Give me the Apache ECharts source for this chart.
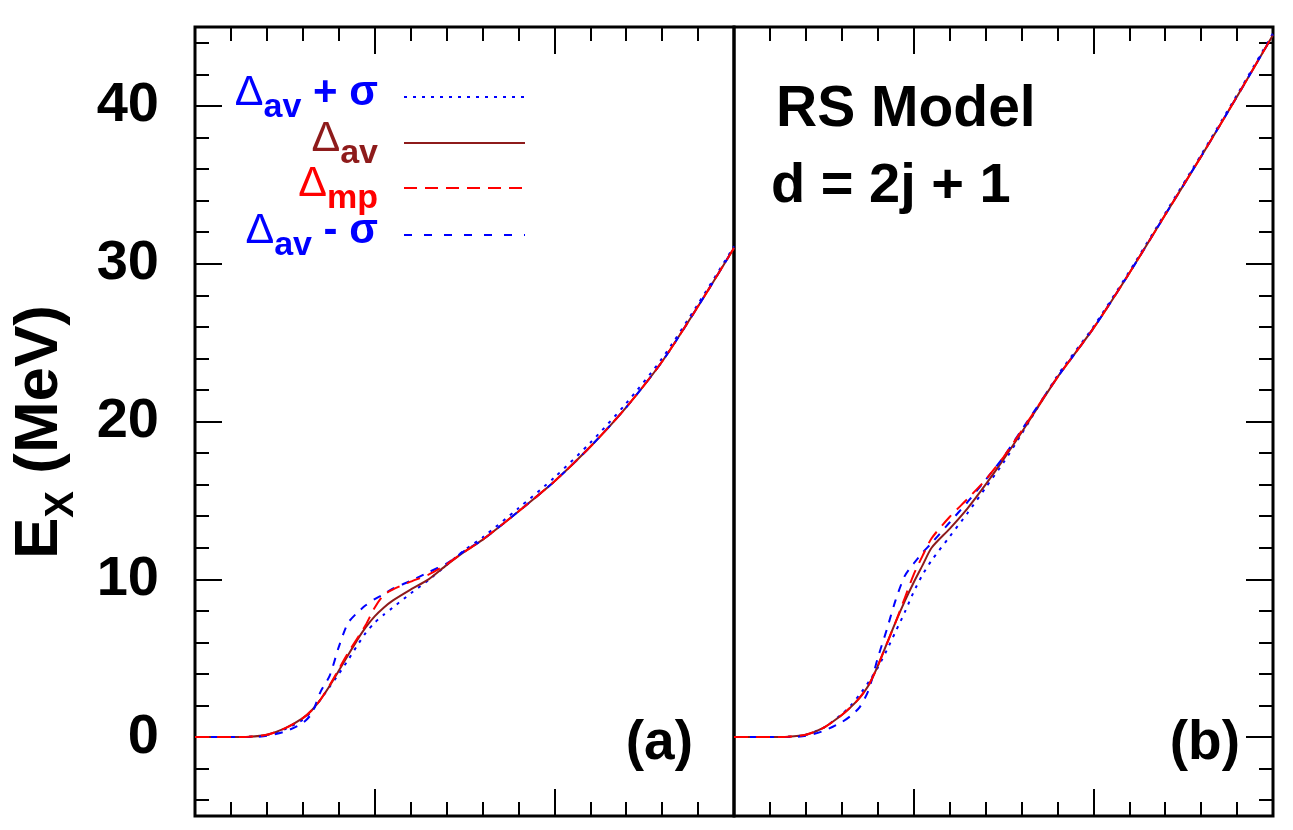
<!DOCTYPE html>
<html>
<head>
<meta charset="utf-8">
<script src="https://cdn.jsdelivr.net/npm/echarts@6/dist/echarts.min.js"></script>
<style>
html, body { margin: 0; padding: 0; background: #fff; }
#chart { width: 1293px; height: 830px; }
</style>
</head>
<body>
<div id="chart"></div>
<script>
// x in tick units (15 minor ticks across each panel)
var xs = [0, 1, 1.5, 2, 2.5, 3, 3.25, 3.5, 3.75, 4, 4.25, 4.5, 4.75, 5, 5.25, 5.5, 6, 6.5, 7, 7.5, 8, 9, 10, 11, 12, 13, 14, 15];

// panel (a)
var avA    = [0, 0, 0.02, 0.15, 0.55, 1.2, 1.7, 2.4, 3.25, 4.2, 5.15, 6.1, 6.95, 7.65, 8.2, 8.65, 9.35, 10.0, 10.9, 11.75, 12.5, 14.3, 16.2, 18.4, 20.9, 23.8, 27.3, 31.0];
var plusA  = [0, 0, 0.02, 0.13, 0.5, 1.1, 1.65, 2.4, 3.2, 4.0, 4.85, 5.75, 6.6, 7.25, 7.75, 8.2, 9.1, 9.95, 10.9, 11.85, 12.65, 14.5, 16.45, 18.65, 21.15, 24.0, 27.45, 31.1];
var minusA = [0, 0, 0, 0.08, 0.35, 0.9, 1.5, 2.9, 3.9, 5.7, 7.2, 7.85, 8.35, 8.75, 9.05, 9.4, 9.9, 10.45, 11.0, 11.8, 12.5, 14.3, 16.2, 18.4, 20.9, 23.8, 27.3, 31.0];
var mpA    = [0, 0, 0.02, 0.15, 0.55, 1.2, 1.7, 2.4, 3.3, 4.3, 5.3, 6.2, 7.1, 8.2, 9.0, 9.35, 9.85, 10.3, 10.95, 11.75, 12.5, 14.3, 16.2, 18.4, 20.9, 23.8, 27.3, 31.0];

// panel (b)
var avB    = [0, 0, 0.02, 0.15, 0.6, 1.4, 1.9, 2.5, 3.3, 4.5, 5.9, 7.3, 8.6, 9.8, 10.9, 12.0, 13.2, 14.5, 16.0, 17.6, 19.3, 22.8, 25.9, 29.4, 33.1, 36.8, 40.6, 44.5];
var plusB  = [0, 0, 0.02, 0.15, 0.6, 1.45, 2.0, 2.7, 3.5, 4.4, 5.5, 6.7, 7.9, 9.2, 10.3, 11.2, 12.7, 14.2, 15.8, 17.4, 19.2, 22.9, 26.0, 29.5, 33.2, 36.9, 40.7, 44.6];
var minusB = [0, 0, 0, 0.08, 0.4, 0.95, 1.35, 1.9, 3.0, 5.0, 6.8, 8.7, 10.2, 11.0, 11.7, 12.3, 13.6, 14.9, 16.3, 17.75, 19.45, 22.8, 25.9, 29.4, 33.1, 36.8, 40.6, 44.5];
var mpB    = [0, 0, 0.02, 0.15, 0.6, 1.4, 1.9, 2.5, 3.3, 4.5, 5.9, 7.3, 8.8, 10.3, 11.5, 12.6, 13.95, 15.1, 16.3, 17.75, 19.4, 22.8, 25.9, 29.4, 33.1, 36.8, 40.6, 44.5];

var FONT = '"Liberation Sans", Arial, Helvetica, sans-serif';
var BLUE = '#0000ff', DARKRED = '#8e1b1b', RED = '#ff0000';

function pairs(ys) {
    return xs.map(function(x, i) { return [x, ys[i]]; });
}

function xAx(grid, pos) {
    return {
        type: 'value', gridIndex: grid, position: pos,
        min: 0, max: 15, interval: 5,
        axisLine: { show: false, onZero: false },
        axisLabel: { show: false },
        splitLine: { show: false },
        axisTick: { show: true, inside: true, length: 27, lineStyle: { color: '#000', width: 2 } },
        minorTick: { show: true, splitNumber: 5, length: 14, lineStyle: { color: '#000', width: 2 } }
    };
}

function yAx(grid, pos, labels) {
    return {
        type: 'value', gridIndex: grid, position: pos,
        min: -5, max: 45, splitNumber: 5,
        axisLine: { show: false, onZero: false },
        splitLine: { show: false },
        axisLabel: {
            show: labels, color: '#000', fontSize: 56, fontWeight: 'bold', fontFamily: FONT,
            margin: 36, showMinLabel: false, showMaxLabel: false
        },
        axisTick: { show: true, inside: true, length: 27, lineStyle: { color: '#000', width: 2 } },
        minorTick: { show: true, splitNumber: 5, length: 14, lineStyle: { color: '#000', width: 2 } }
    };
}

function line(name, ys, axis, color, dash, z) {
    return {
        name: name, type: 'line', xAxisIndex: axis * 2, yAxisIndex: axis,
        data: pairs(ys), showSymbol: false, smooth: 0.25, z: z,
        lineStyle: { color: color, width: 2, type: dash }
    };
}

function legRow(y, color, main, sub, tail, dash) {
    return [{
        type: 'text', x: 378, y: y,
        style: {
            text: '{d|' + main + '}{s|' + sub + '}' + (tail ? '{m|' + tail + '}' : ''),
            align: 'right', verticalAlign: 'middle',
            rich: {
                d: { fontSize: 43, fontFamily: FONT, fill: color, lineHeight: 64 },
                s: { fontSize: 34, fontWeight: 'bold', fontFamily: FONT, fill: color, lineHeight: 22, verticalAlign: 'bottom' },
                m: { fontSize: 42, fontWeight: 'bold', fontFamily: FONT, fill: color, lineHeight: 64 }
            }
        }
    }, {
        type: 'line',
        shape: { x1: 404, y1: y + 4, x2: 525, y2: y + 4 },
        style: { stroke: color, lineWidth: 2, lineDash: dash }
    }];
}

function label(x, y, text, align, size) {
    return {
        type: 'text', x: x, y: y,
        style: { text: text, fontSize: size, fontWeight: 'bold', fontFamily: FONT, fill: '#000', align: align, verticalAlign: 'middle' }
    };
}

var graphics = []
    .concat(legRow(93, BLUE, 'Δ', 'av', ' + σ', [3, 6]))
    .concat(legRow(139, DARKRED, 'Δ', 'av', '', null))
    .concat(legRow(184, RED, 'Δ', 'mp', '', [13, 8]))
    .concat(legRow(231, BLUE, 'Δ', 'av', ' - σ', [8, 12]))
    .concat([
        label(776, 110, 'RS Model', 'left', 57),
        label(771, 187, 'd = 2j + 1', 'left', 56),
        label(693, 744, '(a)', 'right', 55),
        label(1240, 744, '(b)', 'right', 55),
        {
            type: 'text', x: 40, y: 432, rotation: Math.PI / 2,
            style: {
                text: '{b|E}{s|X}{b| (MeV)}',
                align: 'center', verticalAlign: 'middle',
                rich: {
                    b: { fontSize: 62, fontWeight: 'bold', fontFamily: FONT, fill: '#000', lineHeight: 84 },
                    s: { fontSize: 40, fontWeight: 'bold', fontFamily: FONT, fill: '#000', lineHeight: 30, verticalAlign: 'bottom' }
                }
            }
        }
    ]);

var myChart = echarts.init(document.getElementById('chart'));
var option = {
    backgroundColor: '#fff',
    animation: false,
    grid: [
        { left: 195, top: 27, width: 539, height: 789, show: true, borderColor: '#000', borderWidth: 3 },
        { left: 734, top: 27, width: 539, height: 789, show: true, borderColor: '#000', borderWidth: 3 }
    ],
    xAxis: [xAx(0, 'bottom'), xAx(0, 'top'), xAx(1, 'bottom'), xAx(1, 'top')],
    yAxis: [yAx(0, 'left', true), yAx(1, 'right', false)],
    series: [
        line('Δav + σ', plusA, 0, BLUE, [3, 6], 2),
        line('Δav', avA, 0, DARKRED, 'solid', 3),
        line('Δav - σ', minusA, 0, BLUE, [8, 8], 4),
        line('Δmp', mpA, 0, RED, [14, 8], 5),
        line('Δav + σ', plusB, 1, BLUE, [3, 6], 2),
        line('Δav', avB, 1, DARKRED, 'solid', 3),
        line('Δav - σ', minusB, 1, BLUE, [8, 8], 4),
        line('Δmp', mpB, 1, RED, [14, 8], 5)
    ],
    graphic: graphics
};
myChart.setOption(option);
</script>
</body>
</html>
